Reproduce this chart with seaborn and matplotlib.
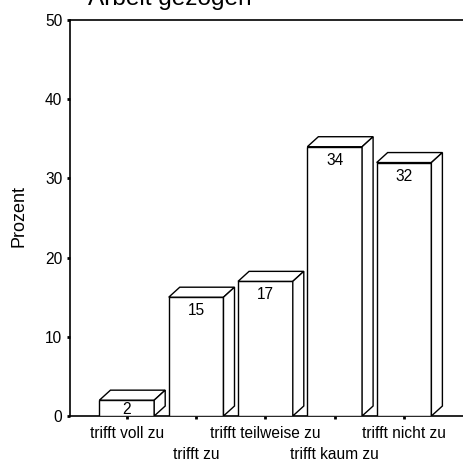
import matplotlib
matplotlib.use("Agg")
import matplotlib.pyplot as plt
from matplotlib.patches import Polygon
import seaborn as sns
import pandas as pd

categories = ["trifft voll zu", "trifft zu", "trifft teilweise zu", "trifft kaum zu", "trifft nicht zu"]
percent = [2, 15, 17, 34, 32]
y_ticks = [0, 10, 20, 30, 40, 50]

sns.set_theme(style="white")
plt.rcParams["font.family"] = ["Liberation Sans", "DejaVu Sans"]

df = pd.DataFrame({"Antwort": categories, "Prozent": percent})

W, H = 463, 461
fig = plt.figure(figsize=(W / 100, H / 100), dpi=100)
ax_left, ax_bottom, ax_w, ax_h = 70, 45, 400, 396
ax = fig.add_axes([ax_left / W, ax_bottom / H, ax_w / W, ax_h / H])

bar_width = 0.79
sns.barplot(data=df, x="Antwort", y="Prozent", order=categories, color="white",
            edgecolor="black", linewidth=1.0, width=bar_width, saturation=1,
            ax=ax, zorder=3)

xlim = (-0.82, -0.82 + ax_w / 69.3)
ylim = (0, 50)
ax.set_xlim(*xlim)
ax.set_ylim(*ylim)

# depth of the pseudo-3D boxes, in pixels converted to data units
dx = 11 * (xlim[1] - xlim[0]) / ax_w
dy = 10 * (ylim[1] - ylim[0]) / ax_h

for bar, val in zip(ax.patches, percent):
    x0 = bar.get_x()
    x1 = x0 + bar.get_width()
    h = bar.get_height()
    top = Polygon([(x0, h), (x1, h), (x1 + dx, h + dy), (x0 + dx, h + dy)],
                  closed=True, facecolor="white", edgecolor="black", linewidth=1.0, zorder=3)
    side = Polygon([(x1, 0), (x1 + dx, dy), (x1 + dx, h + dy), (x1, h)],
                   closed=True, facecolor="white", edgecolor="black", linewidth=1.0, zorder=3)
    ax.add_patch(top)
    ax.add_patch(side)
    bar_px = h / (ylim[1] - ylim[0]) * ax_h
    off = 6 if bar_px > 30 else max((bar_px - 12) / 2, 1)
    ax.annotate(str(val), (x0 + bar.get_width() / 2, h), xytext=(0, -off * 0.72),
                textcoords="offset points", ha="center", va="top", fontsize=11.2,
                color="black", zorder=4)

ax.set_yticks(y_ticks)
ax.set_yticklabels([str(t) for t in y_ticks])
ax.set_xticks(range(len(categories)))
ax.set_xticklabels(categories)
ax.tick_params(axis="both", which="major", direction="out", length=2.5, width=2,
               color="black", labelsize=11.2, labelcolor="black", pad=3,
               left=True, bottom=True)
for i, tick in enumerate(ax.xaxis.get_major_ticks()):
    tick.set_pad(5 if i % 2 == 0 else 20)

for side_name in ["left", "bottom", "top"]:
    ax.spines[side_name].set_visible(True)
    ax.spines[side_name].set_color("black")
    ax.spines[side_name].set_linewidth(1.2)
ax.spines["right"].set_visible(False)

ax.set_xlabel("")
ax.set_ylabel("Prozent", fontsize=13, color="black")
ax.yaxis.set_label_coords(-0.105, 0.505)

fig.text(88 / W, 1 - 5 / H, "Arbeit gezogen", ha="left", va="baseline",
         fontsize=17.6, color="black")

fig.savefig("out.png", dpi=100, facecolor="white")
